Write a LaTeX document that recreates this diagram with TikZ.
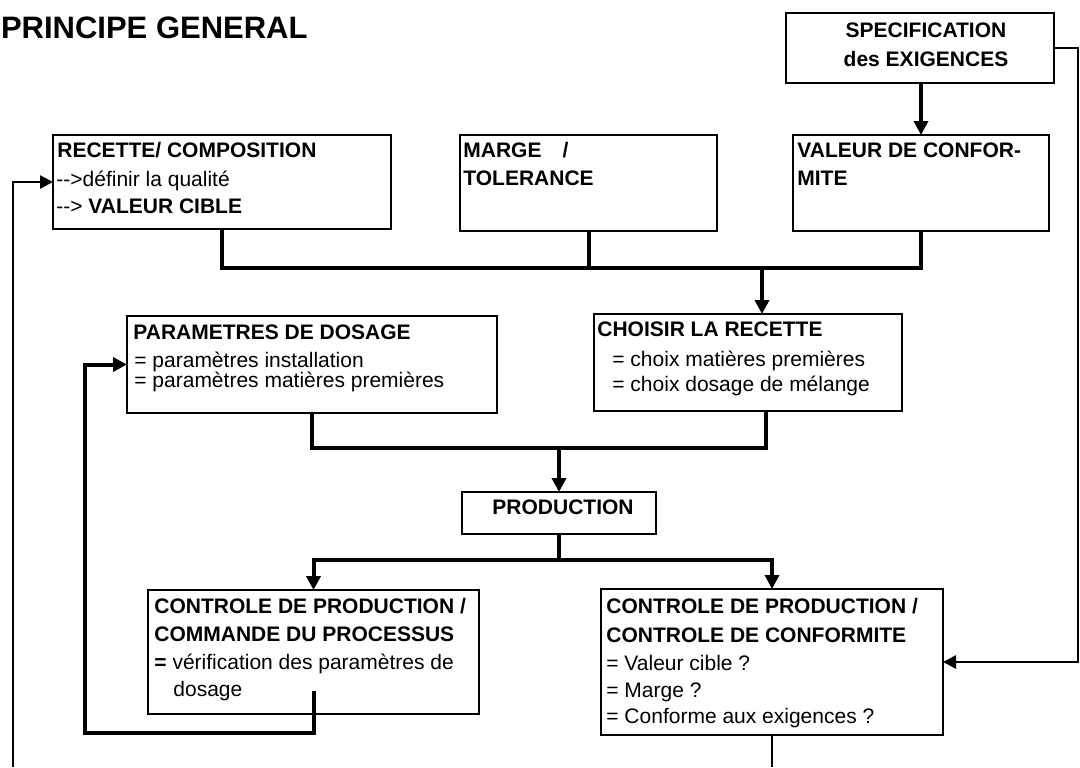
\documentclass[tikz,border=0pt]{standalone}
\usepackage{fontspec}
\setmainfont{Liberation Sans}
\usetikzlibrary{arrows.meta}
\newcommand\bodyfont{\fontsize{10.5}{12.6}\selectfont}
\begin{document}
\begin{tikzpicture}[x=0.5pt,y=-0.5pt,
  box/.style={draw,line width=0.75pt,anchor=north west,inner sep=0pt,outer sep=0pt},
  tl/.style={anchor=base west,inner sep=0pt,font=\bodyfont},
  tlb/.style={anchor=base west,inner sep=0pt,font=\bodyfont\bfseries},
  tcb/.style={anchor=base,inner sep=0pt,font=\bodyfont\bfseries},
  conn/.style={line width=2pt},
  arr/.style={line width=2pt,-{Triangle[length=7pt,width=7pt]}},
  loopl/.style={line width=1.3pt},
  looparr/.style={line width=1.3pt,-{Triangle[length=6.5pt,width=6.5pt]}}]
\useasboundingbox (0,0) rectangle (1080,767);

% title
\node[anchor=base east,inner sep=0pt,font=\fontsize{15.5}{18}\selectfont\bfseries] (title) at (308,38) {PRINCIPE GENERAL};

% boxes
\node[box,minimum width=134pt,minimum height=35pt] (spec) at (786,13) {};
\node[box,minimum width=169pt,minimum height=47pt] (rec) at (53,135) {};
\node[box,minimum width=128.5pt,minimum height=48pt] (marge) at (460,135) {};
\node[box,minimum width=128pt,minimum height=48pt] (val) at (793,135) {};
\node[box,minimum width=185pt,minimum height=48.5pt] (par) at (127,316) {};
\node[box,minimum width=154pt,minimum height=48.5pt] (choi) at (594,314) {};
\node[box,minimum width=97pt,minimum height=21pt] (prod) at (462,492) {};
\node[box,minimum width=165.5pt,minimum height=62pt] (ctla) at (148,590) {};
\node[box,minimum width=171pt,minimum height=73pt] (ctlb) at (601,589) {};

% texts
\node[tcb] (s1) at (926,37) {SPECIFICATION};
\node[tcb] (s2) at (926,66) {des EXIGENCES};

\node[tlb] (r1) at (57,157) {RECETTE/ COMPOSITION};
\node[tl] (r2) at (56,186) {-\kern0pt-\kern0pt>définir la qualité};
\node[tl] (r3) at (56,213) {-\kern0pt-\kern0pt> \textbf{VALEUR CIBLE}};

\node[tlb] (m1) at (463,157) {MARGE\hspace{10.5pt}/};
\node[tlb] (m2) at (463,185) {TOLERANCE};

\node[tlb] (v1) at (797,157) {VALEUR DE CONFOR-};
\node[tlb] (v2) at (797,185) {MITE};

\node[tlb] (p1) at (133,339) {PARAMETRES DE DOSAGE};
\node[tl] (p2) at (134,367) {= paramètres installation};
\node[tl] (p3) at (134,387) {= paramètres matières premières};

\node[tlb] (c1) at (597,336) {CHOISIR LA RECETTE};
\node[tl] (c2) at (612,366) {= choix matières premières};
\node[tl] (c3) at (612,391) {= choix dosage de mélange};

\node[tcb] (pr1) at (563,514) {PRODUCTION};

\node[tlb] (a1) at (154,613) {CONTROLE DE PRODUCTION /};
\node[tlb] (a2) at (154,641) {COMMANDE DU PROCESSUS};
\node[tl] (a3) at (154,669) {\textbf{=} vérification des paramètres de};
\node[tl] (a4) at (173,696) {dosage};

\node[tlb] (b1t) at (606,613) {CONTROLE DE PRODUCTION /};
\node[tlb] (b2t) at (606,642) {CONTROLE DE CONFORMITE};
\node[tl] (b3t) at (606,670) {= Valeur cible ?};
\node[tl] (b4t) at (606,697) {= Marge ?};
\node[tl] (b5t) at (606,723) {= Conforme aux exigences ?};

% connectors
\draw[arr] (spec.south -| val.north) -- (val.north);

\coordinate (j1) at (762,268);
\draw[conn] (rec.south) -- (rec.south |- j1) -- (val.south |- j1) -- (val.south);
\draw[conn] (marge.south) -- (marge.south |- j1);
\draw[arr] (j1) -- (j1 |- choi.north);

\coordinate (j2) at (766,448);
\draw[conn] (par.south) -- (par.south |- j2) -- (j2) -- (j2 |- choi.south);
\draw[arr] (prod.north |- j2) -- (prod.north);

\coordinate (j3) at (560,560);
\draw[conn] (prod.south) -- (prod.south |- j3);
\draw[arr] (prod.south |- j3) -| (ctla.north);
\draw[arr] (prod.south |- j3) -| (ctlb.north);

\coordinate (f0) at (314,691);
\coordinate (f1) at (85,733);
\draw[arr,rounded corners=0pt] (f0) |- (f1) |- (par.west);

\coordinate (l0) at (13,767);
\draw[looparr] (l0) |- (rec.west);

\coordinate (r0) at (1078,0);
\draw[looparr,line width=1.4pt] (spec.east) -- (spec.east -| r0) -- (r0 |- ctlb.east) -- (ctlb.east);

\coordinate (bot) at (772,767);
\draw[loopl] (ctlb.south) -- (ctlb.south |- bot);
\end{tikzpicture}
\end{document}
